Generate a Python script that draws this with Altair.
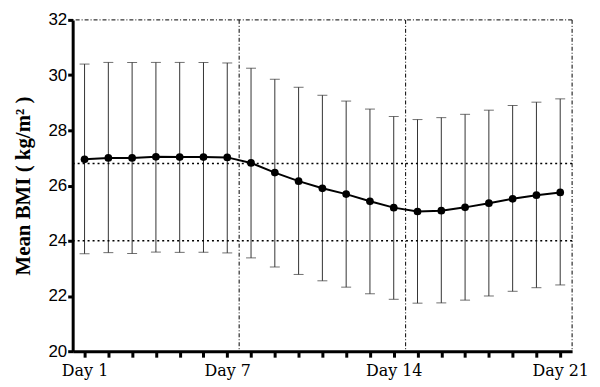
import altair as alt
import pandas as pd

days = list(range(1, 22))
means = [26.95, 27.0, 27.0, 27.04, 27.03, 27.03, 27.02, 26.82, 26.47, 26.16, 25.9,
         25.69, 25.43, 25.2, 25.06, 25.09, 25.21, 25.36, 25.52, 25.65, 25.75]
upper = [30.4, 30.46, 30.46, 30.46, 30.46, 30.46, 30.44, 30.25, 29.85, 29.56, 29.27,
         29.06, 28.77, 28.5, 28.39, 28.46, 28.58, 28.73, 28.9, 29.02, 29.14]
lower = [23.53, 23.57, 23.54, 23.59, 23.58, 23.58, 23.56, 23.38, 23.05, 22.78, 22.55,
         22.32, 22.08, 21.88, 21.74, 21.75, 21.85, 22.0, 22.17, 22.3, 22.4]
hlines = [26.8, 24.0]
vlines = [7.5, 14.5]
label_days = [1, 7, 14, 21]
y_ticks = [20, 22, 24, 26, 28, 30, 32]

df = pd.DataFrame({"day": days, "mean": means, "upper": upper, "lower": lower})

xs = alt.Scale(domain=[0.5, 21.5], nice=False, zero=False)
ys = alt.Scale(domain=[20, 32], nice=False, zero=False)

# axis with ticks at every day, no labels
xaxis_ticks = alt.Axis(values=days, labels=False, title=None, grid=False, orient="bottom",
                       domainWidth=3, domainColor="black", tickWidth=3,
                       tickColor="black", tickSize=6)
# axis with labels only at selected days
xaxis_labels = alt.Axis(values=label_days, labelExpr="'Day ' + datum.value", title=None,
                        grid=False, orient="bottom", domain=False, ticks=False,
                        labelFont="DejaVu Serif", labelFontSize=16, labelColor="black",
                        labelPadding=11, labelFlush=False, labelOverlap=False)
yaxis = alt.Axis(values=y_ticks, title="Mean BMI ( kg/m² )", grid=False, domainWidth=3,
                 domainColor="black", tickWidth=3, tickColor="black", tickSize=5,
                 labelFont="Liberation Sans", labelFontSize=17, labelColor="black",
                 labelPadding=1, titleFont="Liberation Serif", titleFontSize=21,
                 titleFontWeight="bold", titleColor="black", titlePadding=14, labelOverlap=False)

base = alt.Chart(df)

bars = base.mark_rule(color="#333", strokeWidth=1).encode(
    x=alt.X("day:Q", scale=xs, axis=xaxis_ticks), y=alt.Y("lower:Q", scale=ys, axis=yaxis), y2="upper:Q")
caps_top = base.mark_tick(color="#333", thickness=1, size=10, orient="horizontal").encode(
    x=alt.X("day:Q", scale=xs, axis=None), y=alt.Y("upper:Q", scale=ys, axis=None))
caps_bot = base.mark_tick(color="#333", thickness=1, size=10, orient="horizontal").encode(
    x=alt.X("day:Q", scale=xs, axis=None), y=alt.Y("lower:Q", scale=ys, axis=None))
line = base.mark_line(color="black", strokeWidth=2).encode(
    x=alt.X("day:Q", scale=xs, axis=None), y=alt.Y("mean:Q", scale=ys, axis=None))
pts = base.mark_circle(color="black", size=60, opacity=1).encode(
    x=alt.X("day:Q", scale=xs, axis=xaxis_labels), y=alt.Y("mean:Q", scale=ys, axis=None))

hdf = pd.DataFrame({"v": hlines})
hrules = alt.Chart(hdf).mark_rule(color="black", strokeWidth=1.5, strokeDash=[2, 3]).encode(
    y=alt.Y("v:Q", scale=ys, axis=None))
vdf = pd.DataFrame({"v": vlines})
vrules = alt.Chart(vdf).mark_rule(color="black", strokeWidth=1, strokeDash=[4, 2, 1, 2]).encode(
    x=alt.X("v:Q", scale=xs, axis=None))
top = alt.Chart(pd.DataFrame({"v": [32]})).mark_rule(color="black", strokeWidth=1, strokeDash=[4, 2, 1, 2]).encode(
    y=alt.Y("v:Q", scale=ys, axis=None))
right = alt.Chart(pd.DataFrame({"v": [21.5]})).mark_rule(color="black", strokeWidth=1, strokeDash=[4, 2, 1, 2]).encode(
    x=alt.X("v:Q", scale=xs, axis=None))

chart = alt.layer(bars, hrules, vrules, top, right, caps_top, caps_bot, line, pts).resolve_axis(
    x="independent", y="independent"
).properties(
    width=502, height=333, padding={"left": 65, "top": 11, "right": 20, "bottom": 30},
    autosize=alt.AutoSizeParams(type="none"),
).configure_view(stroke=None)

chart.save("out.html", embed_options={"renderer": "svg", "actions": False})
